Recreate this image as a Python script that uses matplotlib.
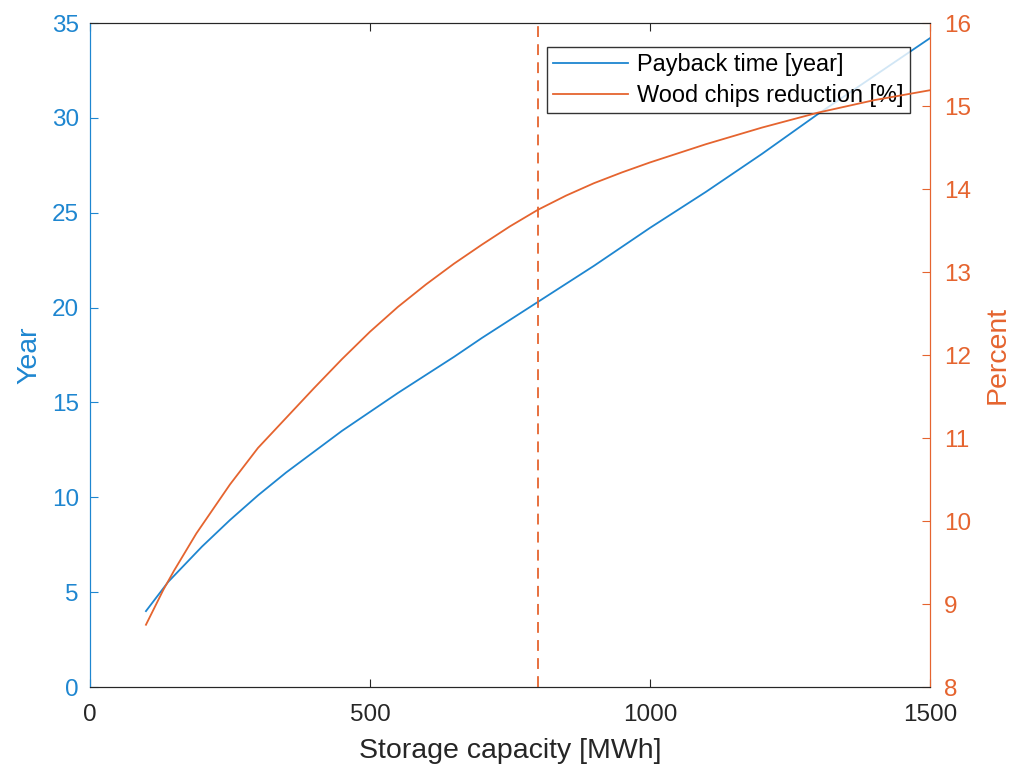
import numpy as np
from matplotlib import pyplot as plt

plt.rcParams['font.family'] = ['Liberation Sans', 'DejaVu Sans']

# 데이터
cap_blue = [100, 140, 200, 250, 300, 350, 400, 450, 500, 550, 600, 650, 700, 750, 800,
            900, 1000, 1100, 1200, 1300, 1400, 1500]
payback = [4.0, 5.55, 7.4, 8.8, 10.1, 11.3, 12.4, 13.5, 14.5, 15.5, 16.45, 17.4, 18.4, 19.35, 20.3,
           22.2, 24.2, 26.1, 28.1, 30.2, 32.2, 34.2]
cap_orange = [100, 131, 150, 190, 250, 300, 350, 400, 450, 500, 550, 600, 650, 700, 750, 800,
              850, 900, 950, 1000, 1100, 1200, 1300, 1400, 1500]
wood_red = [8.75, 9.17, 9.4, 9.85, 10.44, 10.88, 11.24, 11.6, 11.95, 12.28, 12.58, 12.85, 13.1,
            13.33, 13.55, 13.75, 13.92, 14.07, 14.2, 14.32, 14.54, 14.74, 14.92, 15.07, 15.19]
marker_x = 800

blue = '#1E86D0'
orange = '#E5642F'
gray = '#262626'

fig = plt.figure(figsize=(10.13, 7.67), dpi=100)
ax = fig.add_axes([0.0888, 0.1043, 0.8292, 0.8657])
ax2 = ax.twinx()

l1, = ax.plot(cap_blue, payback, color=blue, lw=1.3, label='Payback time [year]')
l2, = ax2.plot(cap_orange, wood_red, color=orange, lw=1.3, label='Wood chips reduction [%]')
ax2.axvline(marker_x, color=orange, ls=(0, (6, 4)), lw=1.3)

ax.set_xlim(0, 1500)
ax.set_ylim(0, 35)
ax2.set_ylim(8, 16)
ax.set_xticks([0, 500, 1000, 1500])
ax.set_yticks(np.arange(0, 36, 5))
ax2.set_yticks(np.arange(8, 17, 1))

ax.set_xlabel('Storage capacity [MWh]', fontsize=20.5, color=gray, labelpad=9)
ax.set_ylabel('Year', fontsize=20.5, color=blue, labelpad=7)
ax2.set_ylabel('Percent', fontsize=20.5, color=orange, labelpad=10)

ax.tick_params(axis='x', direction='in', top=True, labelsize=17.5, colors=gray, length=6, pad=12)
ax.tick_params(axis='y', direction='in', labelsize=17.5, colors=blue, length=6, pad=8)
ax2.tick_params(axis='y', direction='in', labelsize=17.5, colors=orange, length=6, pad=10)
for a in (ax, ax2):
    a.spines['left'].set_color(blue)
    a.spines['right'].set_color(orange)
    a.spines['top'].set_color(gray)
    a.spines['bottom'].set_color(gray)

leg = ax.legend(handles=[l1, l2], loc='upper right', bbox_to_anchor=(0.976, 0.964),
                fontsize=16.9, frameon=True, fancybox=False, edgecolor='black',
                handlelength=3.2, borderpad=0.25, labelspacing=0.35, handletextpad=0.4,
                borderaxespad=0)
leg.get_frame().set_linewidth(1.0)
leg.set_zorder(5)

fig.savefig('out.png', dpi=100)
